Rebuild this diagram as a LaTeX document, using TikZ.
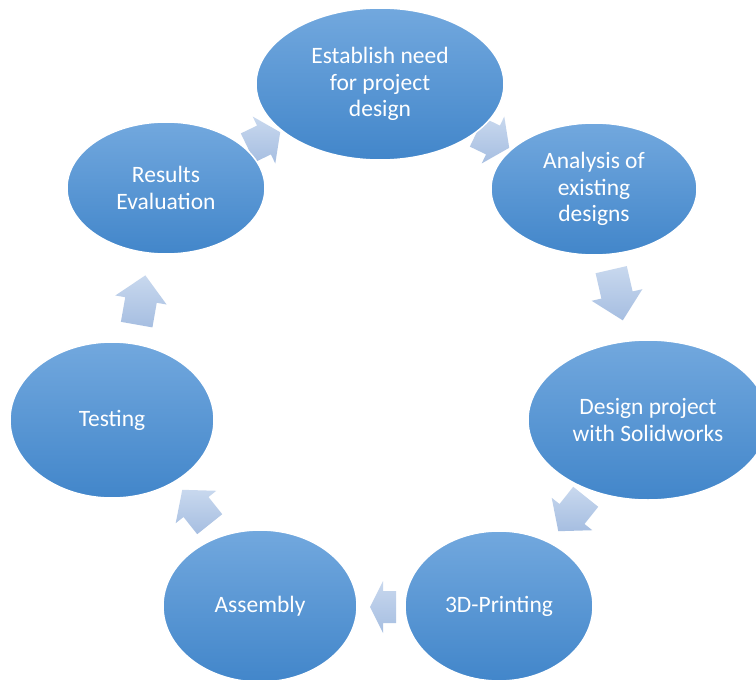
\documentclass[tikz,border=0pt]{standalone}
\usepackage{fontspec}
\setmainfont{Carlito}
\usetikzlibrary{shapes.geometric}
\definecolor{ovaltop}{RGB}{114,168,222}
\definecolor{ovalbot}{RGB}{66,134,202}
\definecolor{arrtop}{RGB}{200,216,238}
\definecolor{arrbot}{RGB}{166,190,225}
\tikzset{
  stage/.style={ellipse, draw=white, line width=1.5pt, top color=ovaltop,
    bottom color=ovalbot, text=white, inner sep=0pt, align=center,
    font=\fontsize{23.5}{26.5}\selectfont},
  flow/.style={top color=arrtop, bottom color=arrbot, draw=none}
}
% block arrow: centre x, centre y, direction (degrees), length
\newcommand\cyclearrow[4]{%
  \begin{scope}[shift={(#1,#2)}, rotate=#3]
    \path[flow] (-#4/2,-16) -- (0,-16) -- (0,-26) -- (#4/2,0)
      -- (0,26) -- (0,16) -- (-#4/2,16) -- cycle;
  \end{scope}}
\begin{document}
\begin{tikzpicture}[x=1pt, y=-1pt]
  \useasboundingbox (0,0) rectangle (756,680);
  \clip (0,0) rectangle (756,680);
  \fill[white] (0,0) rectangle (756,680);

  % arrows between the stages
  \cyclearrow{264}{140}{25.7}{36}
  \cyclearrow{493}{140}{-25.7}{36}
  \cyclearrow{617}{295}{-77.1}{52}
  \cyclearrow{572}{514}{-128.6}{44}
  \cyclearrow{383}{607}{180}{26}
  \cyclearrow{196}{507}{128.6}{44}
  \cyclearrow{141}{300}{80}{50}

  % stages of the cycle
  \node[stage, minimum width=248, minimum height=152] (need) at (380,84)
    {Establish need\\for project\\design};
  \node[stage, minimum width=206, minimum height=132] (analysis) at (594,189)
    {Analysis of\\existing\\designs};
  \node[stage, minimum width=240, minimum height=160] (design) at (648,420)
    {Design project\\with Solidworks};
  \node[stage, minimum width=188, minimum height=150] (printing) at (499,606)
    {3D-Printing};
  \node[stage, minimum width=194, minimum height=152] (assembly) at (260,606)
    {Assembly};
  \node[stage, minimum width=204, minimum height=156] (testing) at (112,420)
    {Testing};
  \node[stage, minimum width=198, minimum height=132] (results) at (166,188)
    {Results\\Evaluation};
\end{tikzpicture}
\end{document}
